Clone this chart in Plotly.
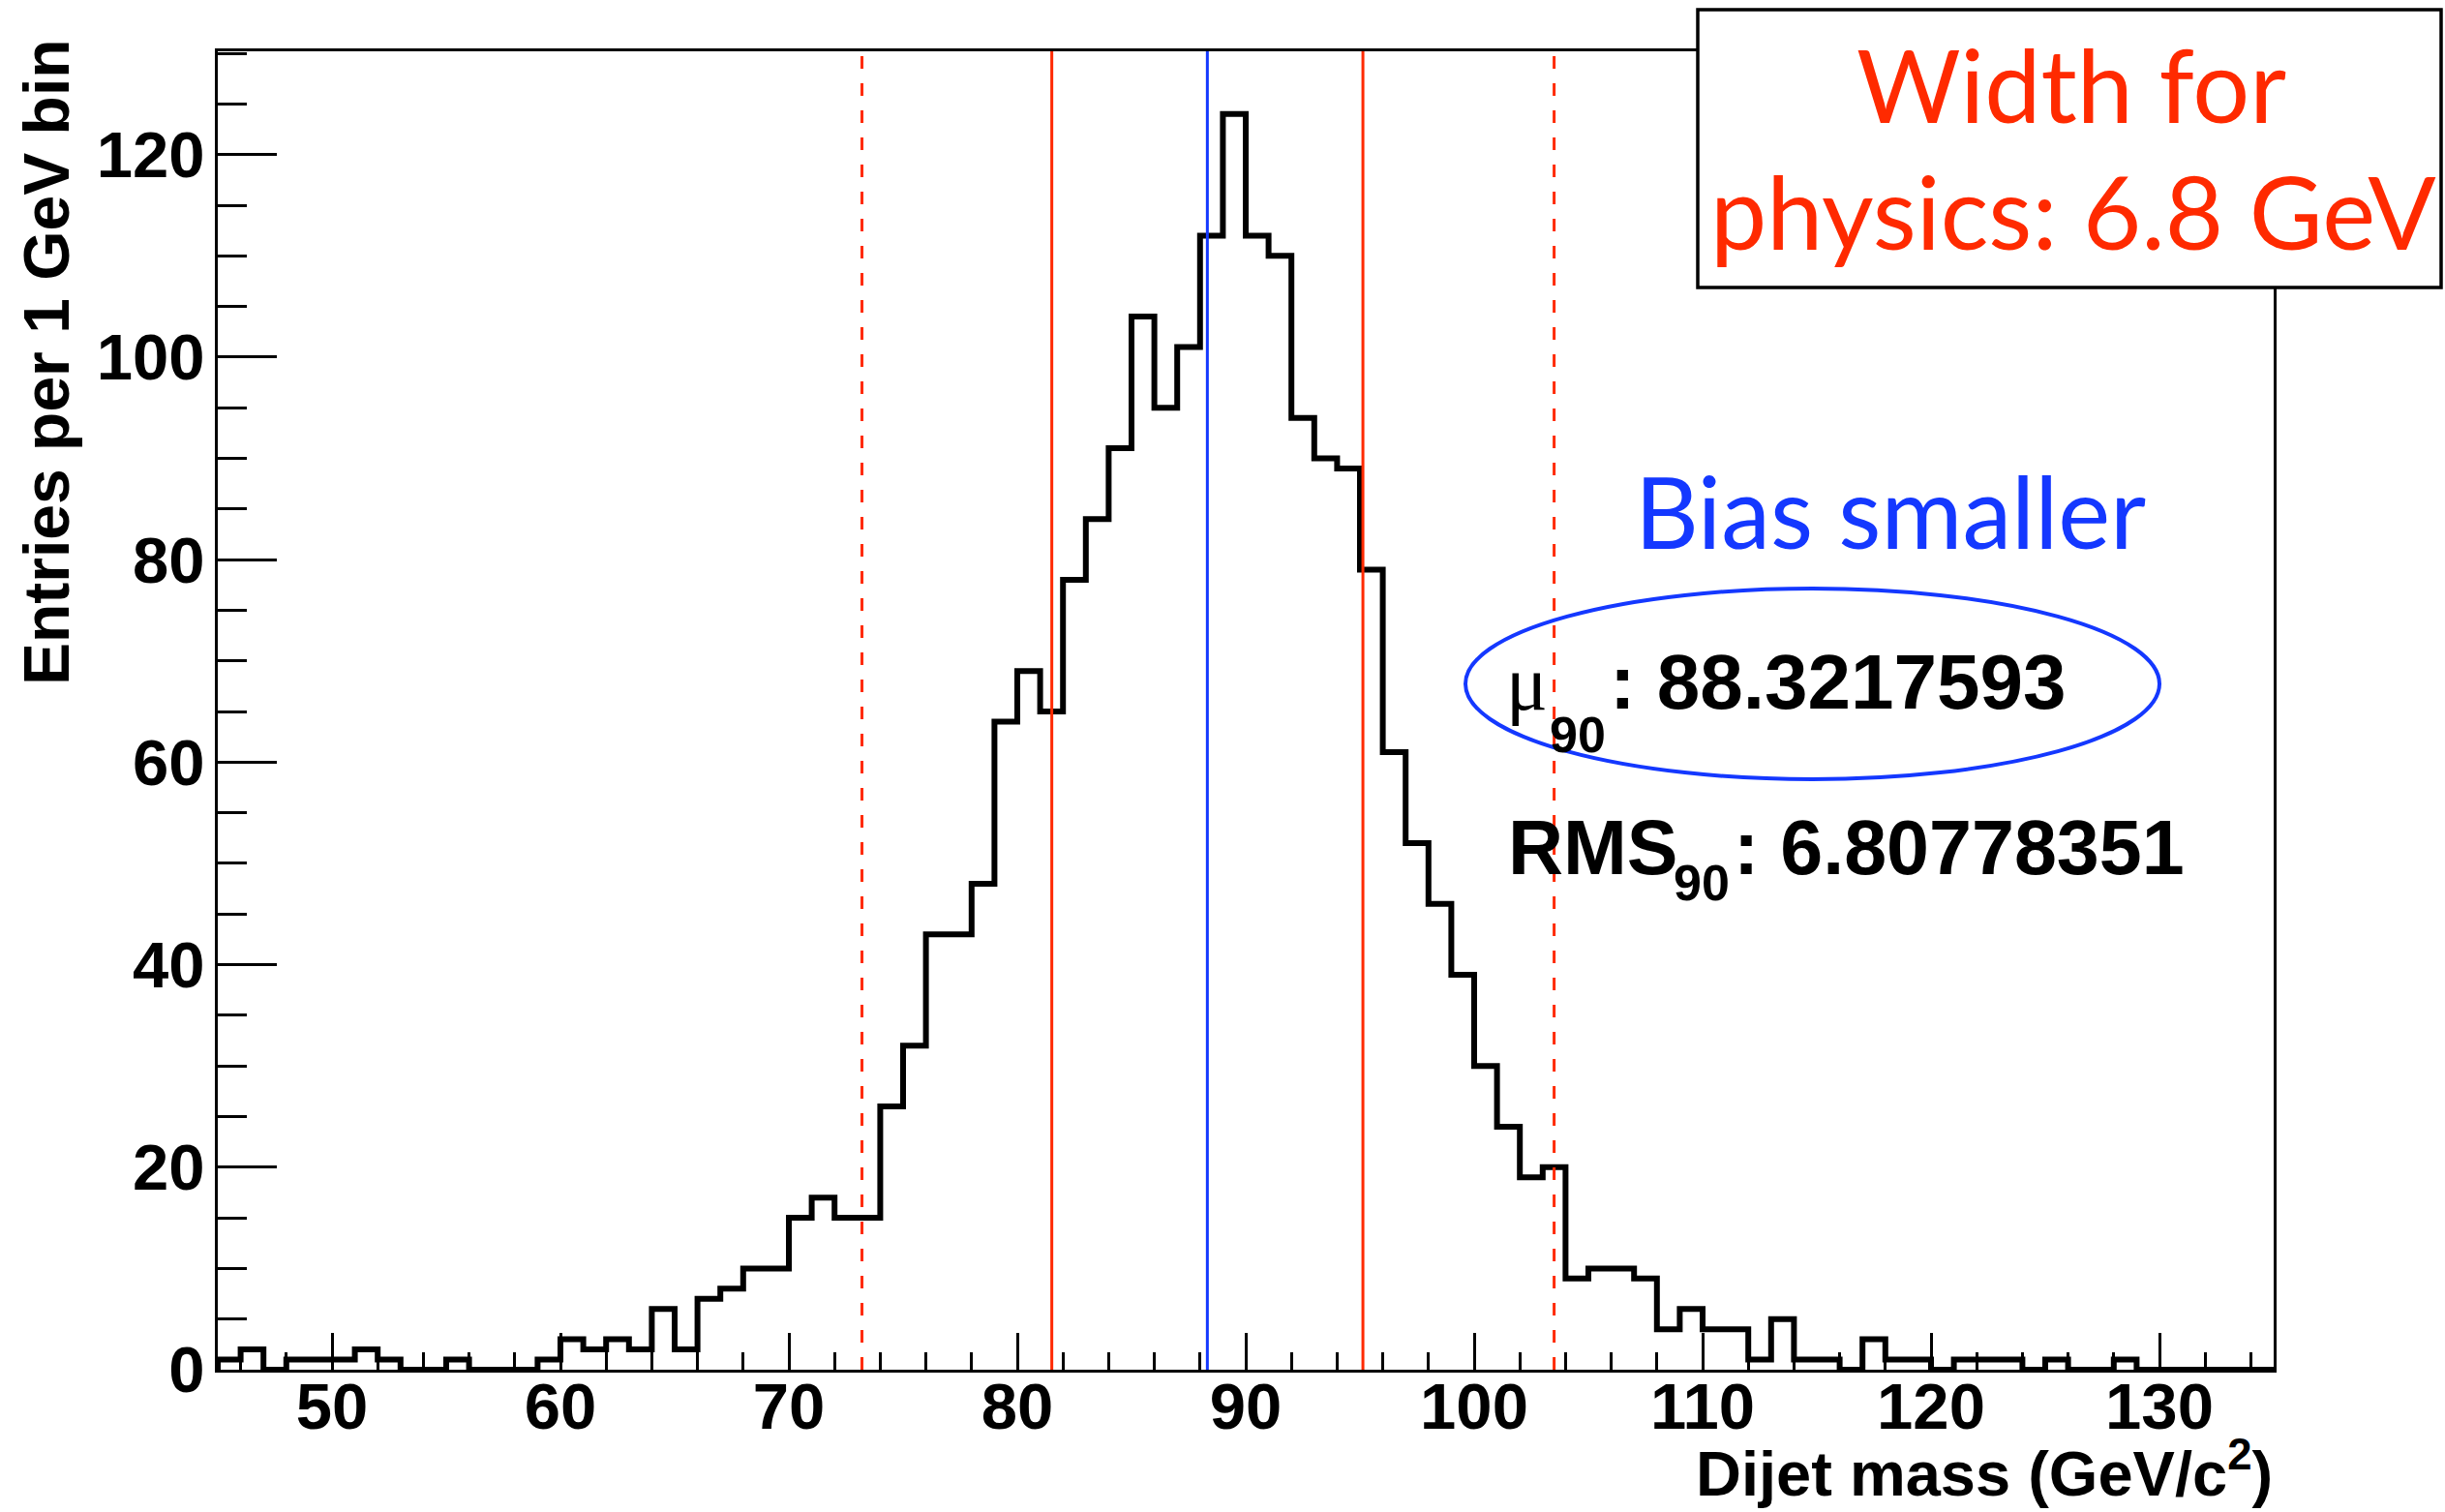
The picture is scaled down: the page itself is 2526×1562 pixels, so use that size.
import plotly.graph_objects as go

# ---------------- data ----------------
bin_low_edges = list(range(45, 135))          # 1 GeV bins from 45 to 135
counts = [
    1, 2, 0, 1, 1, 1, 2, 1, 0, 0,            # 45-54
    1, 0, 0, 0, 1, 3, 2, 3, 2, 6,            # 55-64
    2, 7, 8, 10, 10, 15, 17, 15, 15, 26,     # 65-74
    32, 43, 43, 48, 64, 69, 65, 78, 84, 91,  # 75-84
    104, 95, 101, 112, 124, 112, 110, 94, 90, 89,  # 85-94
    79, 61, 52, 46, 39, 30, 24, 19, 20, 9,   # 95-104
    10, 10, 9, 4, 6, 4, 4, 1, 5, 1,          # 105-114
    1, 0, 3, 1, 1, 0, 1, 1, 1, 0,            # 115-124
    1, 0, 0, 1, 0, 0, 0, 0, 0, 0,            # 125-134
]
bin_width = 1
x_range = [45, 135]
y_range = [0, 130.2]
x_tick_vals = [50, 60, 70, 80, 90, 100, 110, 120, 130]
y_tick_vals = [0, 20, 40, 60, 80, 100, 120]

mu90_line = [88.32]
rms_solid_lines = [81.51, 95.13]
window_dashed_lines = [73.2, 103.5]

mu90_text = "88.3217593"
rms90_text = "6.80778351"

# ---------------- layout helpers ----------------
W, H = 2526, 1562
L, R, T, B = 225, 2349, 53, 1415


def px(x):
    return (x - L) / (R - L)


def py(y):
    return (B - y) / (B - T)


RED = "#ff2a00"
BLUE = "#1438ff"
SANS = "Liberation Sans"

# histogram outline
hx = [bin_low_edges[0]] + bin_low_edges + [bin_low_edges[-1] + bin_width]
hy = [0] + counts + [counts[-1]]

fig = go.Figure()
fig.add_trace(go.Scatter(
    x=hx, y=hy, mode="lines", line=dict(shape="hv", color="black", width=6),
    hoverinfo="skip", showlegend=False,
))

shapes = []
for xv in window_dashed_lines:
    shapes.append(dict(type="line", xref="x", yref="y", x0=xv, x1=xv,
                       y0=y_range[0], y1=y_range[1], layer="above",
                       line=dict(color=RED, width=3, dash="13px,15px")))
for xv in rms_solid_lines:
    shapes.append(dict(type="line", xref="x", yref="y", x0=xv, x1=xv,
                       y0=y_range[0], y1=y_range[1], layer="above",
                       line=dict(color=RED, width=3)))
for xv in mu90_line:
    shapes.append(dict(type="line", xref="x", yref="y", x0=xv, x1=xv,
                       y0=y_range[0], y1=y_range[1], layer="above",
                       line=dict(color=BLUE, width=3)))
# boxed comment
shapes.append(dict(type="rect", xref="paper", yref="paper",
                   x0=px(1754), x1=px(2522), y0=py(297), y1=py(10),
                   fillcolor="white", line=dict(color="black", width=3.5),
                   layer="above"))
# ellipse
shapes.append(dict(type="circle", xref="paper", yref="paper",
                   x0=px(1514), x1=px(2231), y0=py(805), y1=py(608),
                   line=dict(color=BLUE, width=4), layer="above"))


def ann(text, x, y, size, family=SANS, color="black", xanchor="left",
        yanchor="middle", angle=0):
    return dict(text=text, x=px(x), y=py(y), xref="paper", yref="paper",
                xanchor=xanchor, yanchor=yanchor, showarrow=False,
                textangle=angle, borderpad=0,
                font=dict(family=family, size=size, color=color))


annotations = [
    ann("Width for", 2140, 87, 104, family="Lato", color=RED, xanchor="center"),
    ann("physics: 6.8 GeV", 2142, 217, 104, family="Lato", color=RED, xanchor="center"),
    ann("Bias smaller", 1688, 527, 102, family="Lato", color=BLUE),
    ann("\u03bc", 1555, 706, 80, family="Liberation Serif"),
    ann("<b>90</b>", 1600, 759, 52),
    ann("<b>: " + mu90_text + "</b>", 1662, 705, 80),
    ann("<b>RMS</b>", 1557, 875, 79),
    ann("<b>90</b>", 1728, 912, 52),
    ann("<b>: " + rms90_text + "</b>", 1790, 875, 79),
    ann("<b>Dijet mass (GeV/c<sup>2</sup>)</b>", 2349, 1518, 65, xanchor="right"),
    ann("<b>Entries per 1 GeV bin</b>", 48, 374, 66, xanchor="center", angle=-90),
]

tickfont = dict(family=SANS, size=67, color="black", weight="bold")

fig.update_layout(
    width=W, height=H,
    margin=dict(l=L, r=W - R, t=T, b=H - B, autoexpand=False),
    paper_bgcolor="white", plot_bgcolor="white",
    shapes=shapes, annotations=annotations,
    xaxis=dict(range=x_range, tickvals=x_tick_vals, showgrid=False, zeroline=False,
               showline=True, linecolor="black", linewidth=3, mirror=True,
               ticks="inside", ticklen=38, tickwidth=3, tickcolor="black",
               tickfont=tickfont, ticklabelstandoff=-22,
               minor=dict(ticks="inside", ticklen=18, tickwidth=3, tickcolor="black",
                          dtick=2, tick0=0, showgrid=False)),
    yaxis=dict(range=y_range, tickvals=y_tick_vals, showgrid=False, zeroline=False,
               showline=True, linecolor="black", linewidth=3, mirror=True,
               ticks="inside", ticklen=61, tickwidth=3, tickcolor="black",
               tickfont=tickfont, ticklabelstandoff=-3,
               minor=dict(ticks="inside", ticklen=30, tickwidth=3, tickcolor="black",
                          dtick=5, tick0=0, showgrid=False)),
)

fig.write_html("out.html",
               config={"displayModeBar": False, "staticPlot": True},
               post_script="document.body.style.margin='0px';"
                           "document.body.style.overflow='hidden';")
